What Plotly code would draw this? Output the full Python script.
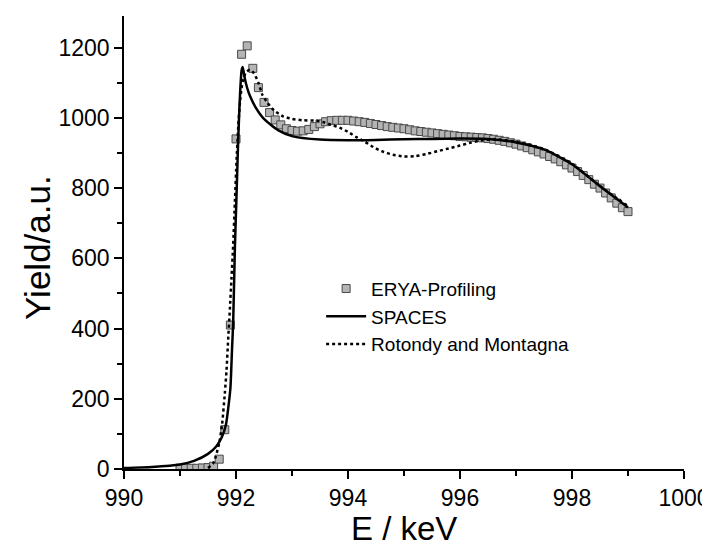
import plotly.graph_objects as go

# ERYA-Profiling (squares)
erya_e = [991.0, 991.1, 991.2, 991.3, 991.4, 991.5, 991.6, 991.7, 991.8, 991.9,
          992.0, 992.1, 992.2, 992.3, 992.4, 992.5, 992.6, 992.7, 992.8, 992.9,
          993.0, 993.1, 993.2, 993.3, 993.4, 993.5, 993.6, 993.7, 993.8, 993.9,
          994.0, 994.1, 994.2, 994.3, 994.4, 994.5, 994.6, 994.7, 994.8, 994.9,
          995.0, 995.1, 995.2, 995.3, 995.4, 995.5, 995.6, 995.7, 995.8, 995.9,
          996.0, 996.1, 996.2, 996.3, 996.4, 996.5, 996.6, 996.7, 996.8, 996.9,
          997.0, 997.1, 997.2, 997.3, 997.4, 997.5, 997.6, 997.7, 997.8, 997.9,
          998.0, 998.1, 998.2, 998.3, 998.4, 998.5, 998.6, 998.7, 998.8, 998.9,
          999.0]
erya_y = [2, 2, 2, 2, 3, 4, 8, 28, 112, 410,
          940, 1181, 1205, 1141, 1086, 1044, 1015, 994, 980, 969,
          964, 962, 963, 967, 975, 983, 989, 992, 993, 993,
          993, 991, 989, 987, 984, 981, 978, 975, 973, 971,
          969, 966, 963, 961, 959, 957, 955, 953, 951, 949,
          947, 946, 945, 944, 943, 941, 939, 936, 933, 929,
          925, 920, 915, 909, 903, 897, 890, 883, 875, 866,
          857, 847, 836, 824, 811, 800, 786, 772, 757, 744,
          733]

# SPACES (solid line)
spaces_e = [990.0, 990.5, 991.0, 991.25, 991.5, 991.65, 991.75, 991.82, 991.87, 991.9,
            991.93, 991.95, 991.98, 992.01, 992.04, 992.07, 992.1, 992.12, 992.15, 992.2,
            992.25, 992.35, 992.5, 992.75, 993.0, 993.5, 994.0, 994.5, 995.0, 995.5,
            996.0, 996.5, 997.0, 997.5, 998.0, 998.5, 999.0]
spaces_y = [3, 6, 13, 23, 43, 65, 92, 126, 185, 230,
            345, 420, 630, 782, 940, 1060, 1135, 1145, 1118, 1085,
            1062, 1030, 997, 965, 948, 938, 936, 937, 939, 940,
            941, 940, 930, 910, 868, 805, 745]

# Rotondy and Montagna (dotted line)
rm_e = [991.5, 991.6, 991.7, 991.75, 991.8, 991.83, 991.86, 991.89, 991.92, 991.95,
        991.98, 992.01, 992.04, 992.07, 992.1, 992.13, 992.18, 992.25, 992.32, 992.4,
        992.47, 992.56, 992.68, 992.83, 993.0, 993.2, 993.4, 993.55, 993.7, 993.85,
        994.0, 994.15, 994.3, 994.45, 994.6, 994.8, 995.0, 995.2, 995.4, 995.6,
        995.8, 996.0, 996.2, 996.4, 996.6, 997.0, 997.5, 998.0, 998.5, 999.0]
rm_y = [3, 18, 74, 125, 215, 279, 369, 454, 545, 640,
        760, 880, 975, 1043, 1085, 1110, 1130, 1137, 1127, 1100,
        1066, 1043, 1021, 1005, 997, 993, 992, 988, 980, 972,
        960, 945, 932, 917, 905, 895, 890, 891, 897, 905,
        913, 921, 930, 936, 939, 932, 911, 869, 806, 748]

x_ticks = [990, 992, 994, 996, 998, 1000]
y_ticks = [0, 200, 400, 600, 800, 1000, 1200]
x_title = "E / keV"
y_title = "Yield/a.u."

FONT = "Liberation Sans, Arial, sans-serif"

fig = go.Figure()
fig.add_trace(go.Scatter(
    x=erya_e, y=erya_y, mode="markers", name="ERYA-Profiling",
    marker=dict(symbol="square", size=8, color="#b4b4b4",
                line=dict(color="#4a4a4a", width=1)),
))
fig.add_trace(go.Scatter(
    x=spaces_e, y=spaces_y, mode="lines", name="SPACES",
    line=dict(color="black", width=2.5, shape="spline", smoothing=0.6),
))
fig.add_trace(go.Scatter(
    x=rm_e, y=rm_y, mode="lines", name="Rotondy and Montagna",
    line=dict(color="black", width=2.5, dash="dot", shape="spline", smoothing=0.6),
))

axis_common = dict(showgrid=False, zeroline=False, showline=True,
                   linecolor="black", linewidth=1.5)

fig.update_layout(
    width=710, height=546,
    margin=dict(l=116, r=26, t=8, b=85),
    paper_bgcolor="white", plot_bgcolor="white",
    font=dict(family=FONT, color="black"),
    xaxis=dict(range=[990, 1000], tickvals=x_ticks, ticks="outside", ticklen=8,
               tickwidth=1.5, tickcolor="black",
               minor=dict(dtick=1, ticks="outside", ticklen=5, tickwidth=1.5, tickcolor="black"),
               tickfont=dict(size=23, family=FONT),
               **axis_common),
    yaxis=dict(range=[0, 1290], tickvals=y_ticks, ticks="outside", ticklen=8,
               tickwidth=1.5, tickcolor="black",
               minor=dict(dtick=100, ticks="outside", ticklen=5, tickwidth=1.5, tickcolor="black"),
               tickfont=dict(size=23, family=FONT),
               **axis_common),
    xaxis2=dict(range=[990, 1000], overlaying="x", side="top", anchor="y",
                tickvals=x_ticks, ticks="inside", ticklen=8, tickwidth=1.5, tickcolor="black",
                minor=dict(dtick=1, ticks="inside", ticklen=5, tickwidth=1.5, tickcolor="black"),
                showticklabels=False, **axis_common),
    yaxis2=dict(range=[0, 1290], overlaying="y", side="right", anchor="x",
                tickvals=y_ticks, ticks="inside", ticklen=8, tickwidth=1.5, tickcolor="black",
                minor=dict(dtick=100, ticks="inside", ticklen=5, tickwidth=1.5, tickcolor="black"),
                showticklabels=False, **axis_common),
    legend=dict(x=0.352, y=0.44, xanchor="left", yanchor="top",
                bgcolor="rgba(0,0,0,0)", font=dict(size=19, family=FONT),
                tracegroupgap=0, itemwidth=40),
    showlegend=True,
    annotations=[
        dict(text=x_title, xref="paper", yref="paper", x=0.5, y=0,
             xanchor="center", yanchor="top", yshift=-39, showarrow=False,
             font=dict(size=33, family=FONT)),
        dict(text=y_title, xref="paper", yref="paper", x=0, y=0.488,
             xanchor="center", yanchor="middle", xshift=-86, textangle=-90,
             showarrow=False, font=dict(size=35, family=FONT)),
    ],
)

fig.write_html("out.html")
